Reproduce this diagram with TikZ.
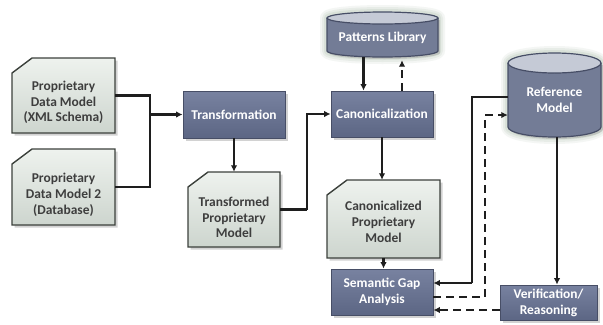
\documentclass[tikz,border=0pt]{standalone}
\usepackage{fontspec}
\setmainfont{Carlito}
\usetikzlibrary{arrows.meta,shadows,calc}
\definecolor{boxtop}{HTML}{7882A0}
\definecolor{boxbot}{HTML}{5C6684}
\definecolor{boxline}{HTML}{474E66}
\definecolor{cardtop}{HTML}{EEF2EE}
\definecolor{cardbot}{HTML}{CDD5CE}
\definecolor{cardline}{HTML}{3C413C}
\definecolor{cardtext}{HTML}{3E3E3E}
\definecolor{cylbody}{HTML}{737C96}
\definecolor{cyltop}{HTML}{C5CAD6}
\definecolor{glow}{HTML}{A9BDA9}
\definecolor{wire}{HTML}{1E1E1E}
\tikzset{
  box/.style={rectangle, inner sep=0pt, draw=boxline, line width=0.8bp,
    top color=boxtop, bottom color=boxbot,
    drop shadow={shadow xshift=2.5bp, shadow yshift=-2.5bp, opacity=0.35}},
  holder/.style={rectangle, inner sep=0pt, draw=none},
  cardshape/.style={draw=cardline, line width=1.4bp, top color=cardtop, bottom color=cardbot,
    drop shadow={shadow xshift=2.5bp, shadow yshift=-2.5bp, opacity=0.35}},
  wtext/.style={text=white, font=\bfseries\fontsize{13.5}{16}\selectfont, align=center},
  ctext/.style={text=cardtext, font=\bfseries\fontsize{13.5}{15.8}\selectfont, align=center},
  arr/.style={draw=wire, line width=2.2bp, -{Latex[length=6.5bp,width=6.5bp]}},
  wire/.style={draw=wire, line width=2.2bp},
  darr/.style={draw=wire, line width=2.6bp, dash pattern=on 8bp off 5bp, -{Latex[length=6.5bp,width=6.5bp]}},
}
\newcommand\mycard[7]{%
  \path[cardshape] (#2+20,#3) -- (#4,#3) -- (#4,#5) -- (#2,#5) -- (#2,#3+15) -- cycle;
  \node[holder, minimum width={(#4-#2)*1bp}, minimum height={(#5-#3)*1bp}] (#1) at ({(#2+#4)/2},{(#3+#5)/2}) {};
  \node[ctext] (#1t) at ({(#2+#4)/2},{(#3+#5)/2+#7}) {#6};
}
\newcommand\mycyl[8]{% name, x1, x2, ytop, ybot, ry, text
  \foreach \w/\o in {14/0.12,10/0.16,6/0.22}{
    \draw[glow, line width=\w bp, opacity=\o, line join=round]
      (#2,#4+#6) -- (#2,#5-#6) arc[start angle=180, end angle=0, x radius={(#3-#2)/2}, y radius=#6]
      -- (#3,#4+#6) arc[start angle=0, end angle=-180, x radius={(#3-#2)/2}, y radius=#6] -- cycle;}
  \fill[cylbody, drop shadow={shadow xshift=2bp, shadow yshift=-2bp, opacity=0.3}]
      (#2,#4+#6) -- (#2,#5-#6) arc[start angle=180, end angle=0, x radius={(#3-#2)/2}, y radius=#6]
      -- (#3,#4+#6) -- cycle;
  \draw[boxline, line width=1.2bp]
      (#2,#4+#6) -- (#2,#5-#6) arc[start angle=180, end angle=0, x radius={(#3-#2)/2}, y radius=#6]
      -- (#3,#4+#6);
  \draw[boxline, line width=1.2bp, fill=cyltop] ({(#2+#3)/2},#4+#6) ellipse[x radius={(#3-#2)/2}, y radius=#6];
  \node[holder, minimum width={(#3-#2)*1bp}, minimum height={(#5-#4)*1bp}] (#1) at ({(#2+#3)/2},{(#4+#5)/2}) {};
  \node[wtext] (#1t) at ({(#2+#3)/2},#8) {#7};
}
\begin{document}
\begin{tikzpicture}[x=1bp, y=-1bp]
\useasboundingbox (0,0) rectangle (603,324);
\fill[white] (0,0) rectangle (603,324);

% cards
\mycard{pdm}{12}{58}{115}{133}{Proprietary\\Data Model\\(XML Schema)}{7}
\mycard{pdmb}{12}{149}{115}{225}{Proprietary\\Data Model 2\\(Database)}{8}
\mycard{tpm}{188}{172}{280}{247}{Transformed\\Proprietary\\Model}{8}
\mycard{cpm}{327}{180}{440}{258}{Canonicalized\\Proprietary\\Model}{3}

% process boxes
\node[box, minimum width=102bp, minimum height=47bp] (trans) at (234,114.5) {};
\node[wtext] (transt) at (trans.center) {Transformation};
\node[box, minimum width=102bp, minimum height=46bp] (canon) at (382,114) {};
\node[wtext] (canont) at (canon.center) {Canonicalization};
\node[box, minimum width=102bp, minimum height=46bp] (sga) at (382,292) {};
\node[wtext] (sgat) at (sga.center) {Semantic Gap\\Analysis};
\node[box, minimum width=97bp, minimum height=35bp] (ver) at (548.5,302.5) {};
\node[wtext] (vert) at (ver.center) {Verification/\\Reasoning};

% cylinders
\mycyl{pat}{327}{438}{12}{57}{6}{Patterns Library}{38}
\mycyl{ref}{508}{601}{53}{137}{10}{Reference\\Model}{100}

% junction
\coordinate (j1) at (150,114.5);
\coordinate (j2) at (307,209.5);
\coordinate (j3) at (472,283);
\coordinate (j4) at (485,297);

% connectors
\draw[wire] (pdm.east) -| (j1) |- (pdmb.east);
\draw[arr] (j1) -- (trans.west);
\draw[arr] (trans.south) -- (tpm.north);
\draw[wire] (tpm.east) -- (j2);
\draw[arr] (j2) |- (canon.west);
\draw[arr] ([xshift=-19bp]pat.south) -- ([xshift=-19bp]pat.south |- canon.north);
\draw[darr] ([xshift=20bp]canon.north) -- ([xshift=20bp,yshift=-3bp]canon.north |- pat.south);
\draw[arr] (canon.south) -- (canon.south |- cpm.north);
\draw[arr] (cpm.south) -- (cpm.south |- sga.north);
\draw[wire] (ref.west |- 0,97) -| (j3);
\draw[arr] (j3) -- (j3 -| sga.east);
\draw[darr] (j4 -| sga.east) -| (485,115) -- (ref.west |- 0,115);
\draw[darr] (ver.west |- 0,310) -- (sga.east |- 0,310);
\draw[arr] ([xshift=2.5bp]ref.south) -- ([xshift=2.5bp]ref.south |- ver.north);
\end{tikzpicture}
\end{document}
